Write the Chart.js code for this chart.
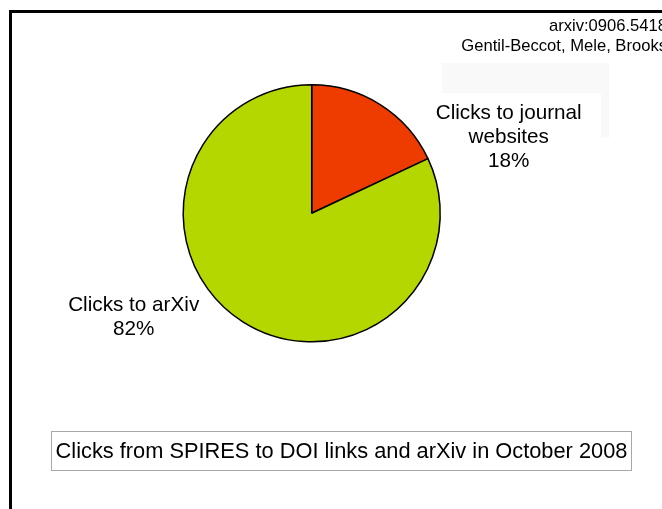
<!DOCTYPE html>
<html>
<head>
<meta charset="utf-8">
<script src="https://cdn.jsdelivr.net/npm/chart.js@4/dist/chart.umd.min.js"></script>
<style>
  html, body { margin: 0; padding: 0; background: #fff; }
  #wrap { position: relative; width: 662px; height: 509px; }
</style>
</head>
<body>
<div id="wrap"><canvas id="clicksChart" width="662" height="509"></canvas></div>
<script>
// data
const categorias = ['Clicks to journal websites', 'Clicks to arXiv']
const porcentajes = [18, 82]
const colores = ['rgb(238, 59, 0)', 'rgb(181, 215, 0)']
const etiquetas = [
  ['Clicks to journal', 'websites', '18%'],
  ['Clicks to arXiv', '82%']
]
const titulo = 'Clicks from SPIRES to DOI links and arXiv in October 2008'
const nota = ['arxiv:0906.5418', 'Gentil-Beccot, Mele, Brooks']

const FUENTE = '"Liberation Sans", Arial, sans-serif'

// frame, notes, labels and title box
const decoracion = {
  id: 'decoracion',
  beforeDraw(chart) {
    const ctx = chart.ctx
    ctx.save()
    ctx.fillStyle = '#fff'
    ctx.fillRect(0, 0, chart.width, chart.height)
    // faint grey patch behind the journal label
    ctx.fillStyle = '#f9f9f9'
    ctx.fillRect(442, 63, 167, 75)
    ctx.fillStyle = '#fff'
    ctx.fillRect(420, 93, 181, 80)
    // black frame (top and left)
    ctx.fillStyle = '#000'
    ctx.fillRect(9, 10, chart.width - 9, 3)
    ctx.fillRect(9, 10, 3, chart.height - 10)
    ctx.restore()
  },
  afterDraw(chart) {
    const ctx = chart.ctx
    const arcs = chart.getDatasetMeta(0).data
    const cx = arcs[0].x, cy = arcs[0].y
    ctx.save()
    ctx.fillStyle = '#000'
    ctx.textBaseline = 'alphabetic'

    // notes, top right (cut by the edge)
    ctx.font = '16.6px ' + FUENTE
    ctx.textAlign = 'right'
    ctx.fillText(nota[0], 667, 31)
    ctx.fillText(nota[1], 667, 50.5)

    // slice labels
    ctx.font = '20.7px ' + FUENTE
    ctx.textAlign = 'center'
    etiquetas[0].forEach((t, i) => ctx.fillText(t, cx + 197, cy - 94 + i * 23.8))
    etiquetas[1].forEach((t, i) => ctx.fillText(t, cx - 178, cy + 97.5 + i * 24.3))

    // title box
    ctx.strokeStyle = '#a8a8a8'
    ctx.lineWidth = 1
    ctx.strokeRect(51.5, 431.5, 580, 39)
    ctx.font = '21.8px ' + FUENTE
    ctx.fillText(titulo, 341.5, 457.5)
    ctx.restore()
  }
}

const data = {
  labels: categorias,
  datasets: [{
    data: porcentajes,
    backgroundColor: colores,
    borderColor: '#000',
    borderWidth: 1.5,
    hoverBorderWidth: 1.5,
    hoverOffset: 0
  }]
}

const config = {
  type: 'pie',
  data: data,
  options: {
    responsive: false,
    animation: false,
    radius: 128.5,
    layout: {
      padding: { left: 182, right: 220.6, top: 84, bottom: 166.4 }
    },
    plugins: {
      legend: { display: false },
      title: { display: false },
      tooltip: { enabled: false }
    }
  },
  plugins: [decoracion]
}

const clicksChart = new Chart(document.querySelector('#clicksChart'), config)
</script>
</body>
</html>
